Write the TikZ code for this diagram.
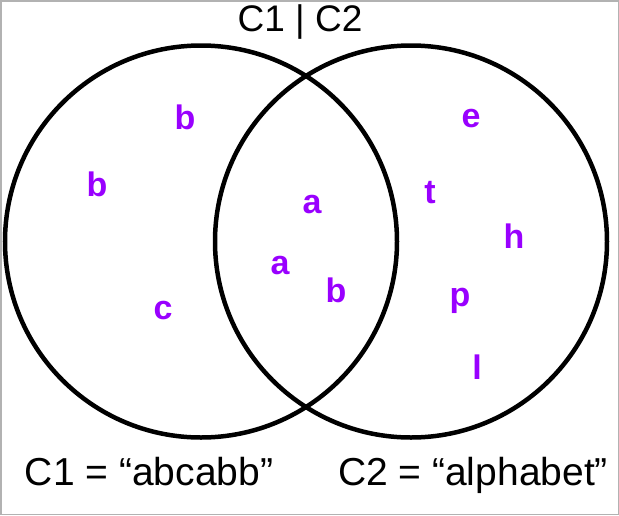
\documentclass[tikz,border=0pt]{standalone}
\usepackage{fontspec}
\setmainfont{Liberation Sans}
\definecolor{letterpurple}{RGB}{153,0,255}
\begin{document}
\begin{tikzpicture}[x=1pt, y=-1pt,
    ring/.style={line width=4.5pt},
    letter/.style={text=letterpurple, font=\fontsize{34}{34}\selectfont\bfseries, inner sep=0pt},
    caption/.style={font=\fontsize{39}{39}\selectfont, inner sep=0pt}]
    \useasboundingbox (0,0) rectangle (619,515);
    \draw[gray!60, line width=1.5pt] (0.75,0.75) rectangle (618.25,514.25);
    \draw[ring] (201,241.5) circle (196pt);
    \draw[ring] (411,241.5) circle (196pt);
    \node[caption, font=\fontsize{37}{37}\selectfont] (title) at (300,22) {C1 | C2};
    \node[caption] (cone) at (149,472) {C1 = “abcabb”};
    \node[caption] (ctwo) at (473,475) {C2 = “alphabet”};
    % left only
    \node[letter] (b1) at (185,117) {b};
    \node[letter] (b2) at (97,184) {b};
    \node[letter] (c1) at (163,311) {c};
    % both
    \node[letter] (a1) at (312,205) {a};
    \node[letter] (a2) at (280,266) {a};
    \node[letter] (b3) at (336,290) {b};
    % right only
    \node[letter] (e1) at (471,119) {e};
    \node[letter] (t1) at (430,193) {t};
    \node[letter] (h1) at (514,236) {h};
    \node[letter] (p1) at (460,301) {p};
    \node[letter] (l1) at (477,367) {l};
\end{tikzpicture}
\end{document}
